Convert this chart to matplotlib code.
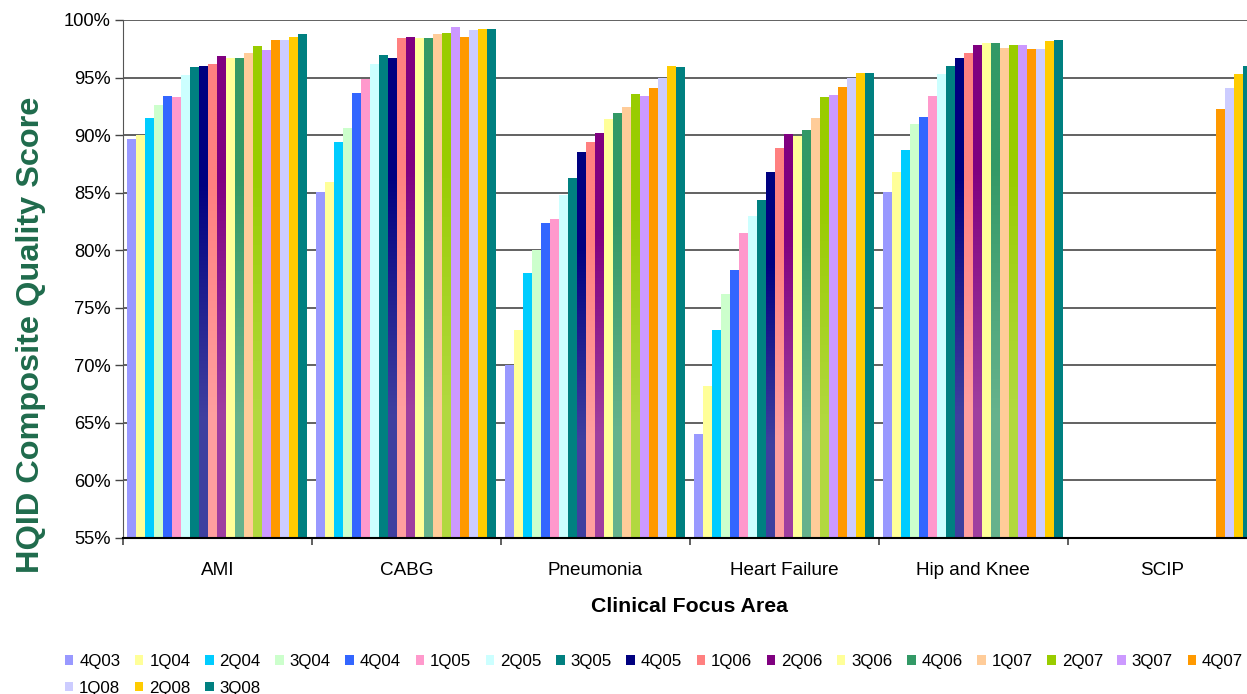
import numpy as np
import matplotlib
matplotlib.use("Agg")
from matplotlib import pyplot as plt
from matplotlib.colors import to_rgb
from matplotlib.ticker import FuncFormatter

plt.rcParams['font.family'] = ['Liberation Sans', 'DejaVu Sans']

areas = ["AMI", "CABG", "Pneumonia", "Heart Failure", "Hip and Knee", "SCIP"]
quarters = ["4Q03", "1Q04", "2Q04", "3Q04", "4Q04", "1Q05", "2Q05", "3Q05",
            "4Q05", "1Q06", "2Q06", "3Q06", "4Q06", "1Q07", "2Q07", "3Q07",
            "4Q07", "1Q08", "2Q08", "3Q08"]
colors = ["#9999FF", "#FFFF99", "#00CCFF", "#CCFFCC", "#3366FF", "#FF99CC",
          "#CCFFFF", "#008080", "#000080", "#FF8080", "#800080", "#FFFF99",
          "#339966", "#FFCC99", "#99CC00", "#CC99FF", "#FF9900", "#CCCCFF",
          "#FFCC00", "#008080"]
# quarters whose bars fade toward the baseline
shaded = {"4Q05", "1Q06", "2Q06", "4Q06", "2Q07"}

nan = np.nan
ami = [89.7, 90.0, 91.5, 92.6, 93.4, 93.3, 95.2, 95.9, 96.0, 96.2,
       96.9, 96.7, 96.7, 97.1, 97.7, 97.4, 98.3, 98.3, 98.5, 98.8]
cabg = [85.1, 85.9, 89.4, 90.6, 93.7, 94.9, 96.2, 97.0, 96.7, 98.4,
        98.5, 98.4, 98.4, 98.8, 98.9, 99.4, 98.5, 99.1, 99.2, 99.2]
pneumonia = [70.0, 73.1, 78.0, 80.0, 82.4, 82.7, 84.8, 86.3, 88.5, 89.4,
             90.2, 91.4, 91.9, 92.4, 93.6, 93.4, 94.1, 95.0, 96.0, 95.9]
heart_failure = [64.0, 68.2, 73.1, 76.2, 78.3, 81.5, 83.0, 84.4, 86.8, 88.9,
                 90.1, 89.9, 90.4, 91.5, 93.3, 93.5, 94.2, 95.0, 95.4, 95.4]
hip_knee = [85.1, 86.8, 88.7, 91.0, 91.6, 93.4, 95.3, 96.0, 96.7, 97.1,
            97.8, 98.0, 98.0, 97.6, 97.8, 97.8, 97.5, 97.5, 98.2, 98.3]
scip = [nan] * 16 + [92.3, 94.1, 95.3, 96.0]

scores = np.array([ami, cabg, pneumonia, heart_failure, hip_knee, scip])

fig = plt.figure(figsize=(12.47, 6.94), dpi=100)
ax = fig.add_axes([0.0986, 0.2248, 0.909, 0.7464])

base = 55
n = len(quarters)
width = 0.0476
centers = np.arange(len(areas)) + 0.5

handles = []
for k, (q, c) in enumerate(zip(quarters, colors)):
    xs = centers + (k - (n - 1) / 2) * width
    bars = ax.bar(xs, scores[:, k] - base, bottom=base, width=width,
                  color=c, linewidth=0, zorder=2, label=q)
    handles.append(bars)
    if q in shaded:
        top = np.array(to_rgb(c))
        low = top + (1 - top) * 0.25
        grad = np.array([[top], [low]])
        for b, v in zip(bars, scores[:, k]):
            if np.isnan(v):
                continue
            x0 = b.get_x()
            im = ax.imshow(grad, extent=[x0, x0 + width, base, v],
                           aspect='auto', interpolation='bilinear',
                           origin='upper', zorder=2.5)
            im.set_clip_path(b)

ax.set_xlim(0, len(areas))
ax.set_ylim(base, 100)
ax.set_yticks(np.arange(55, 101, 5))
ax.yaxis.set_major_formatter(FuncFormatter(lambda v, _: f"{v:.0f}%"))
ax.set_xticks(np.arange(len(areas) + 1))
ax.set_xticklabels([])
ax.set_xticks(centers, minor=True)
ax.set_xticklabels(areas, minor=True)
ax.tick_params(axis='x', which='minor', length=0, pad=17, labelsize=13.6)
ax.tick_params(axis='x', which='major', length=5, width=1.2, color='#444444')
ax.tick_params(axis='y', length=6, width=1, color='#444444', labelsize=13.2, pad=3)

ax.set_axisbelow(True)
ax.yaxis.grid(True, color='#555555', linewidth=1.3, zorder=0)
for s in ("top", "right"):
    ax.spines[s].set_visible(False)
ax.spines["left"].set_color('#555555')
ax.spines["bottom"].set_color('black')
ax.spines["bottom"].set_linewidth(1.5)

ax.set_xlabel("Clinical Focus Area", fontsize=15.3, fontweight='bold', labelpad=13)
ax.set_ylabel("HQID Composite Quality Score", fontsize=23.4, fontweight='bold',
              color='#1F6B4C')
ax.yaxis.set_label_coords(-0.0675, 0.392)

# legend fills column by column, so interleave the second-row entries
order = [0, 17, 1, 18, 2, 19] + list(range(3, 17))
fig.legend([handles[i] for i in order], [quarters[i] for i in order],
           ncol=17, loc='upper left', bbox_to_anchor=(0.052, 0.058),
           frameon=False, fontsize=12.2, handlelength=0.5, handleheight=0.5,
           handletextpad=0.35, columnspacing=0.86, labelspacing=0.7,
           borderaxespad=0, borderpad=0)

fig.savefig("out.png", dpi=100)
